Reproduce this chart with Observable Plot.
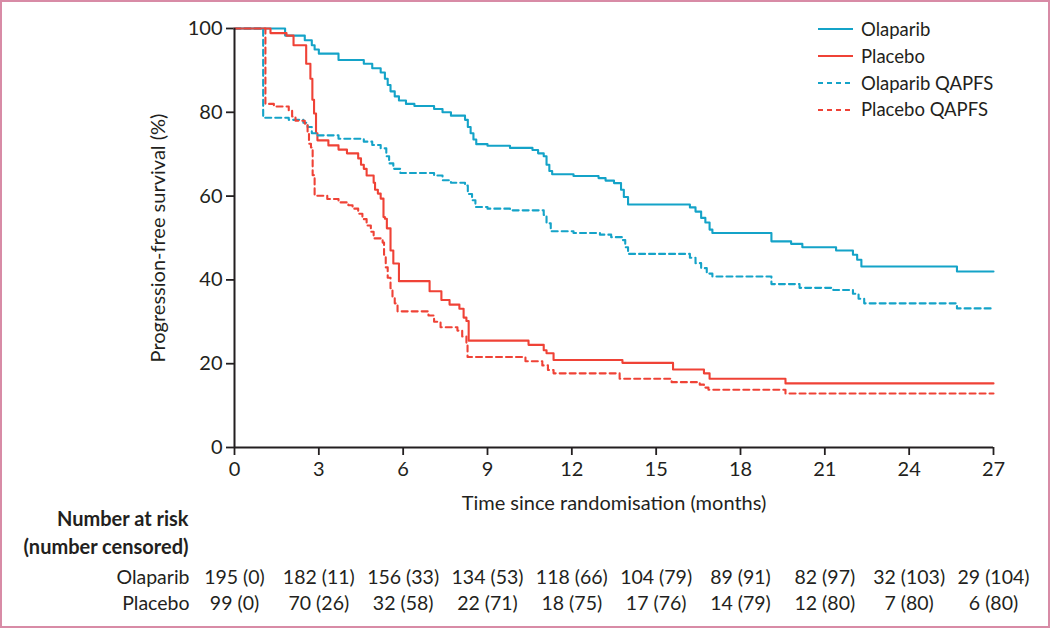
<!DOCTYPE html>
<html>
<head>
<meta charset="utf-8">
<script src="https://cdn.jsdelivr.net/npm/d3@7"></script>
<script src="https://cdn.jsdelivr.net/npm/@observablehq/plot@0.6"></script>
<style>
  html, body { margin: 0; padding: 0; background: #fff; }
  #wrap { position: relative; width: 1050px; height: 628px; overflow: hidden; font-family: Lato, "Open Sans", sans-serif; color: #231f20; }
  #frame { position: absolute; left: 0; top: 0; width: 1050px; height: 628px; box-sizing: border-box; border: 2px solid #d88ba6; pointer-events: none; }
  #legend { position: absolute; left: 818px; top: 16px; font-size: 18.5px; line-height: 26.8px; }
  #legend .row { display: flex; align-items: center; height: 26.8px; }
  #legend svg { margin-right: 8px; }
</style>
</head>
<body>
<div id="wrap">
  <div id="chart"></div>
  <div id="legend"></div>
  <div id="frame"></div>
</div>
<script>
// ---- data ----
const xTicks = [0, 3, 6, 9, 12, 15, 18, 21, 24, 27];
const yTicks = [0, 20, 40, 60, 80, 100];

const olaparibT = [0, 1.8, 2.5, 2.75, 2.85, 3.0, 3.7, 4.6, 4.9, 5.2, 5.35, 5.45, 5.55, 5.7, 5.85, 6.1, 6.4, 7.1, 7.4, 7.7, 8.2, 8.3, 8.4, 8.5, 8.6, 9.0, 9.8, 10.6, 10.8, 11.0, 11.1, 11.2, 11.3, 12.06, 12.95, 13.2, 13.5, 13.75, 13.85, 14.0, 16.2, 16.4, 16.6, 16.75, 16.9, 17.0, 19.1, 19.8, 20.2, 21.4, 22.0, 22.15, 22.3, 25.7, 27];
const olaparibS = [100, 98.3, 97.2, 96, 95, 94, 92.5, 91.6, 90.5, 89.5, 88, 86.5, 85, 83.8, 82.8, 82, 81.5, 80.8, 80, 79.2, 78.2, 76.5, 75, 73.5, 72.4, 72.0, 71.5, 71.0, 70.2, 69.5, 67.5, 66, 65.2, 64.8, 64.3, 63.7, 63.1, 61.5, 59.8, 58, 57.3, 56.3, 54.8, 53.7, 52, 51.2, 49.2, 48.6, 47.8, 47.0, 46.0, 44.8, 43.2, 42.0, 42.0];

const placeboT = [0, 1.28, 1.85, 2.1, 2.55, 2.7, 2.77, 2.83, 2.9, 2.95, 3.34, 3.7, 4.0, 4.4, 4.5, 4.6, 4.7, 4.95, 5.0, 5.1, 5.2, 5.3, 5.35, 5.42, 5.55, 5.65, 5.85, 6.94, 7.36, 7.65, 8.0, 8.15, 8.25, 8.33, 10.46, 11.0, 11.1, 11.35, 13.8, 15.6, 16.7, 16.9, 19.6, 27];
const placeboS = [100, 98.9, 98.3, 96, 91.6, 88, 83, 79.7, 75, 73.3, 72.1, 71.1, 70.2, 69, 67.5, 66.5, 64.9, 63.2, 61.5, 60.6, 59.4, 55, 54.6, 52.3, 47, 43.9, 39.7, 37.3, 35.2, 34.1, 33.1, 31, 30.2, 25.5, 24.5, 23.2, 22.5, 20.9, 20.2, 18.6, 17.7, 16.4, 15.3, 15.3];

const olaparibQT = [0, 1.02, 1.93, 2.45, 2.6, 2.75, 2.9, 3.7, 4.6, 4.9, 5.2, 5.4, 5.5, 5.65, 5.9, 7.1, 7.4, 7.7, 8.2, 8.3, 8.45, 8.57, 9.0, 9.8, 11.0, 11.1, 11.25, 12.06, 13.0, 13.4, 13.8, 13.9, 14.0, 16.2, 16.4, 16.6, 16.8, 17.0, 19.1, 20.1, 21.3, 22.0, 22.2, 22.4, 25.7, 27];
const olaparibQS = [100, 78.7, 78.2, 77.5, 76.5, 75, 74.5, 73.7, 73.0, 72.2, 71.4, 69.5, 67.8, 66.5, 65.5, 64.9, 63.8, 63.2, 62.5, 60.5, 59, 57.4, 57.0, 56.6, 55.5, 53.5, 51.6, 51.2, 50.8, 50.2, 49.5, 47.8, 46.2, 45.3, 44, 42.8, 41.5, 40.8, 39.0, 38.1, 37.6, 36.7, 35.5, 34.4, 33.2, 33.2];

const placeboQT = [0, 1.1, 1.4, 1.93, 2.05, 2.17, 2.5, 2.6, 2.65, 2.72, 2.78, 2.85, 3.3, 3.7, 4.05, 4.2, 4.4, 4.55, 4.7, 4.85, 4.95, 5.27, 5.32, 5.38, 5.45, 5.55, 5.62, 5.7, 5.8, 6.9, 7.1, 7.33, 7.93, 8.1, 8.25, 8.29, 10.35, 10.95, 11.15, 11.35, 13.7, 15.55, 16.55, 16.7, 16.86, 19.6, 27];
const placeboQS = [100, 82, 81.4, 80.4, 79, 78, 77.3, 75, 72.5, 71.6, 65, 60.1, 59.3, 58.5, 57.8, 57.0, 55.8, 54.5, 53, 51.5, 49.9, 48.9, 46, 43, 40.5, 38, 35.8, 34.4, 32.5, 31.5, 30, 28.7, 27.9, 26.5, 24.8, 21.6, 20.6, 19.6, 18.5, 17.7, 16.4, 15.6, 15.0, 14.3, 13.8, 12.9, 12.9];

const seriesNames = ["Olaparib", "Placebo", "Olaparib QAPFS", "Placebo QAPFS"];
const seriesColors = ["#14a3c8", "#ef4236", "#14a3c8", "#ef4236"];
const seriesDashed = [false, false, true, true];

const riskTimes = [0, 3, 6, 9, 12, 15, 18, 21, 24, 27];
const olaparibRisk = ["195 (0)", "182 (11)", "156 (33)", "134 (53)", "118 (66)", "104 (79)", "89 (91)", "82 (97)", "32 (103)", "29 (104)"];
const placeboRisk = ["99 (0)", "70 (26)", "32 (58)", "22 (71)", "18 (75)", "17 (76)", "14 (79)", "12 (80)", "7 (80)", "6 (80)"];

// ---- build ----
const toRows = (T, S) => T.map((t, i) => ({t, s: S[i]}));
const seriesData = [
  toRows(olaparibT, olaparibS),
  toRows(placeboT, placeboS),
  toRows(olaparibQT, olaparibQS),
  toRows(placeboQT, placeboQS)
];
const ink = "#231f20";
const dash = "6,4";

const lineMarks = seriesData.map((d, i) => Plot.line(d, {
  x: "t", y: "s", curve: "step-after",
  stroke: seriesColors[i], strokeWidth: 2.1,
  strokeDasharray: seriesDashed[i] ? dash : null
}));

const riskRows = (labels) => riskTimes.map((t, i) => ({t, label: labels[i]}));

const plot = Plot.plot({
  width: 1050,
  height: 628,
  marginLeft: 234,
  marginRight: 57,
  marginTop: 28,
  marginBottom: 181,
  style: {fontFamily: "Lato, 'Open Sans', sans-serif", fontSize: "17px", color: ink, background: "transparent"},
  x: {domain: [0, 27]},
  y: {domain: [0, 100]},
  marks: [
    Plot.axisY({ticks: yTicks, tickSize: 8, tickPadding: 4, label: null, stroke: ink, strokeWidth: 1.8, fill: ink, fontSize: 20}),
    Plot.axisX({ticks: xTicks, tickSize: 8, tickPadding: 6, label: null, stroke: ink, strokeWidth: 1.8, fill: ink, fontSize: 20}),
    ...lineMarks,
    Plot.ruleX([0], {stroke: ink, strokeWidth: 2}),
    Plot.ruleY([0], {stroke: ink, strokeWidth: 2}),
    // axis titles
    Plot.text(["Time since randomisation (months)"], {frameAnchor: "bottom", dy: 56, fontSize: 20, fill: ink, lineAnchor: "middle"}),
    Plot.text(["Progression-free survival (%)"], {frameAnchor: "left", dx: -76, rotate: -90, fontSize: 20, fill: ink, lineAnchor: "middle", textAnchor: "middle"}),
    // number at risk table
    Plot.text(["Number at risk"], {frameAnchor: "bottom-left", dx: -46, dy: 72, textAnchor: "end", fontWeight: "bold", fontSize: 20, fill: ink, lineAnchor: "middle"}),
    Plot.text(["(number censored)"], {frameAnchor: "bottom-left", dx: -46, dy: 100, textAnchor: "end", fontWeight: "bold", fontSize: 20, fill: ink, lineAnchor: "middle"}),
    Plot.text(["Olaparib"], {frameAnchor: "bottom-left", dx: -45, dy: 130, textAnchor: "end", fontSize: 19.5, fill: ink, lineAnchor: "middle"}),
    Plot.text(["Placebo"], {frameAnchor: "bottom-left", dx: -45, dy: 156, textAnchor: "end", fontSize: 19.5, fill: ink, lineAnchor: "middle"}),
    Plot.text(riskRows(olaparibRisk), {x: "t", text: "label", frameAnchor: "bottom", dy: 130, fontSize: 19.5, fill: ink, lineAnchor: "middle"}),
    Plot.text(riskRows(placeboRisk), {x: "t", text: "label", frameAnchor: "bottom", dy: 156, fontSize: 19.5, fill: ink, lineAnchor: "middle"})
  ]
});
document.getElementById("chart").appendChild(plot);

// legend
const legend = document.getElementById("legend");
seriesNames.forEach((name, i) => {
  const row = document.createElement("div");
  row.className = "row";
  row.innerHTML = `<svg width="35" height="6"><line x1="0" x2="35" y1="3" y2="3" stroke="${seriesColors[i]}" stroke-width="2" ${seriesDashed[i] ? 'stroke-dasharray="5,4"' : ''}/></svg><span>${name}</span>`;
  legend.appendChild(row);
});
</script>
</body>
</html>
